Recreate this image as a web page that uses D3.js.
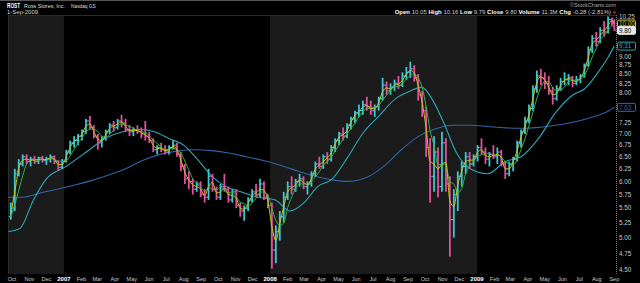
<!DOCTYPE html>
<html>
<head>
<meta charset="utf-8">
<script src="https://cdn.jsdelivr.net/npm/d3@7/dist/d3.min.js"></script>
<style>
  html, body { margin: 0; padding: 0; background: #000; }
  svg { display: block; font-family: "Liberation Sans", Arial, sans-serif; }
</style>
</head>
<body>
<svg id="chart" width="640" height="283"></svg>
<script>
// Weekly OHLC bars (week ending Friday, last bar = 1-Sep-2009)
const opens = [5.35,5.50,6.20,6.35,6.50,6.40,6.45,6.40,6.48,6.42,6.45,6.50,6.40,6.28,
  6.40,6.60,6.80,6.85,6.95,7.05,7.30,7.15,6.95,6.80,6.90,7.05,7.20,7.15,7.30,7.25,7.10,7.05,7.10,7.05,7.00,6.95,6.85,6.65,6.70,6.65,6.60,6.70,6.75,6.55,6.30,6.05,6.00,5.85,5.95,5.75,5.70,6.10,5.85,5.70,5.90,5.85,5.65,5.80,5.55,5.45,5.50,5.65,5.80,5.75,5.95,5.70,
  5.55,4.80,5.10,5.35,5.70,5.90,5.85,6.00,6.05,5.90,5.95,6.15,6.35,6.30,6.50,6.45,6.70,6.85,7.00,6.95,7.20,7.35,7.50,7.55,7.70,7.65,7.55,7.65,7.85,8.20,8.05,8.15,8.25,8.20,8.45,8.55,8.65,8.40,7.95,7.55,6.70,6.10,6.60,5.90,6.80,5.95,5.30,5.75,6.10,6.30,6.50,6.35,
  6.50,6.70,6.60,6.45,6.55,6.50,6.60,6.35,6.15,6.35,6.45,6.80,7.05,7.30,7.60,8.10,8.45,8.40,8.25,8.05,7.85,8.10,8.30,8.35,8.40,8.25,8.35,8.45,8.75,9.20,9.55,9.45,9.80,9.75,10.15,10.05];
const highs = [5.60,6.25,6.45,6.55,6.55,6.50,6.52,6.50,6.52,6.50,6.55,6.53,6.42,6.45,
  6.65,6.85,6.95,7.00,7.10,7.35,7.42,7.20,7.00,6.95,7.10,7.25,7.30,7.35,7.45,7.35,7.20,7.15,7.20,7.15,7.30,7.05,6.90,6.75,6.80,6.75,6.75,6.85,6.80,6.60,6.35,6.20,6.05,6.00,6.00,5.85,6.25,6.15,5.90,5.95,6.15,5.90,5.85,5.85,5.60,5.55,5.70,5.85,5.95,6.05,6.00,5.75,
  5.60,5.20,5.45,5.80,6.00,6.10,6.05,6.15,6.10,6.00,6.20,6.40,6.50,6.55,6.60,6.75,6.90,7.05,7.15,7.25,7.40,7.55,7.70,7.80,7.90,7.80,7.70,7.90,8.40,8.30,8.25,8.35,8.45,8.55,8.70,8.85,8.75,8.50,8.05,7.65,6.90,6.95,6.70,7.05,6.90,6.10,5.85,6.20,6.40,6.60,6.60,6.55,
  6.75,6.90,6.70,6.60,6.75,6.70,6.65,6.40,6.40,6.50,6.85,7.10,7.40,7.70,8.20,8.60,8.65,8.55,8.45,8.15,8.20,8.40,8.55,8.50,8.45,8.45,8.50,8.80,9.30,9.65,9.75,9.90,10.10,10.25,10.22,10.16];
const lows = [5.30,5.45,6.10,6.30,6.35,6.30,6.35,6.35,6.38,6.33,6.38,6.35,6.22,6.25,
  6.38,6.55,6.70,6.75,6.85,7.00,7.10,6.90,6.65,6.70,6.85,7.00,7.05,7.10,7.15,7.05,6.95,6.95,7.00,6.90,6.85,6.80,6.60,6.55,6.60,6.55,6.55,6.65,6.50,6.20,5.95,5.85,5.75,5.80,5.70,5.60,5.65,5.80,5.65,5.65,5.80,5.60,5.60,5.50,5.35,5.28,5.45,5.60,5.70,5.70,5.65,5.50,
  4.52,4.60,4.95,5.25,5.65,5.75,5.80,5.90,5.85,5.75,5.90,6.10,6.25,6.25,6.35,6.40,6.60,6.75,6.85,6.90,7.10,7.25,7.40,7.45,7.55,7.45,7.40,7.55,7.80,7.95,7.95,8.05,8.10,8.15,8.35,8.40,8.30,7.80,7.40,6.50,5.60,5.80,5.70,5.80,5.80,4.70,5.00,5.45,5.90,6.15,6.25,6.30,
  6.40,6.55,6.35,6.30,6.45,6.35,6.30,6.05,6.10,6.20,6.40,6.70,7.00,7.25,7.55,8.00,8.20,8.10,7.95,7.70,7.80,8.05,8.20,8.20,8.15,8.20,8.25,8.40,8.70,9.10,9.30,9.40,9.60,9.70,9.95,9.79];
const closes = [5.45,6.15,6.35,6.50,6.40,6.45,6.40,6.48,6.42,6.45,6.50,6.40,6.28,6.40,
  6.60,6.80,6.85,6.95,7.05,7.30,7.15,6.95,6.80,6.90,7.05,7.20,7.15,7.30,7.25,7.10,7.05,7.10,7.05,7.00,6.95,6.85,6.65,6.70,6.65,6.60,6.70,6.75,6.55,6.30,6.05,6.00,5.85,5.95,5.75,5.70,6.10,5.85,5.70,5.90,5.85,5.65,5.80,5.55,5.45,5.50,5.65,5.80,5.75,5.95,5.70,5.55,
  4.80,5.10,5.35,5.70,5.90,5.85,6.00,6.05,5.90,5.95,6.15,6.35,6.30,6.50,6.45,6.70,6.85,7.00,6.95,7.20,7.35,7.50,7.55,7.70,7.65,7.55,7.65,7.85,8.20,8.05,8.15,8.25,8.20,8.45,8.55,8.65,8.40,7.95,7.55,6.70,6.10,6.60,5.90,6.80,5.95,5.30,5.75,6.10,6.30,6.50,6.35,6.50,
  6.70,6.60,6.45,6.55,6.50,6.60,6.35,6.15,6.35,6.45,6.80,7.05,7.30,7.60,8.10,8.45,8.40,8.25,8.05,7.85,8.10,8.30,8.35,8.40,8.25,8.35,8.45,8.75,9.20,9.55,9.45,9.80,9.75,10.15,10.08,9.80];

// Moving averages, one value per bar
const ma10 = [5.40,5.80,6.25,6.43,6.45,6.43,6.43,6.44,6.45,6.44,6.48,6.45,6.34,6.34,
  6.50,6.70,6.83,6.90,7.00,7.18,7.23,7.05,6.88,6.85,6.98,7.13,7.18,7.23,7.28,7.18,7.08,7.08,7.08,7.03,6.98,6.90,6.75,6.68,6.68,6.63,6.65,6.73,6.65,6.43,6.18,6.03,5.93,5.90,5.85,5.73,5.90,5.98,5.78,5.80,5.88,5.75,5.73,5.68,5.50,5.48,5.58,5.73,5.78,5.85,5.83,5.63,
  5.18,4.95,5.23,5.53,5.80,5.88,5.93,6.03,5.98,5.93,6.05,6.25,6.33,6.40,6.48,6.58,6.78,6.93,6.98,7.08,7.28,7.43,7.53,7.63,7.68,7.60,7.60,7.75,8.03,8.13,8.10,8.20,8.23,8.33,8.50,8.60,8.53,8.18,7.75,7.13,6.40,6.35,6.25,6.35,6.38,5.63,5.53,5.93,6.20,6.40,6.43,6.43,
  6.60,6.65,6.53,6.50,6.53,6.55,6.48,6.25,6.25,6.40,6.63,6.93,7.18,7.45,7.85,8.28,8.43,8.33,8.15,7.95,7.98,8.20,8.33,8.38,8.33,8.30,8.40,8.60,8.98,9.38,9.50,9.63,9.78,9.95,10.12,10.00];
const ma20 = [5.35,5.56,5.83,6.11,6.35,6.43,6.44,6.43,6.44,6.44,6.46,6.44,6.41,6.40,
  6.42,6.52,6.66,6.80,6.91,7.04,7.11,7.11,7.05,6.95,6.93,6.99,7.08,7.18,7.23,7.20,7.18,7.13,7.08,7.05,7.03,6.96,6.86,6.79,6.71,6.65,6.66,6.68,6.65,6.58,6.41,6.23,6.05,5.96,5.89,5.81,5.88,5.85,5.84,5.89,5.83,5.78,5.80,5.71,5.61,5.58,5.54,5.60,5.68,5.79,5.80,5.74,
  5.50,5.29,5.20,5.24,5.51,5.70,5.86,5.95,5.95,5.98,6.01,6.09,6.19,6.33,6.40,6.49,6.63,6.75,6.88,7.00,7.13,7.25,7.40,7.53,7.60,7.61,7.64,7.68,7.81,7.94,8.06,8.16,8.16,8.26,8.36,8.46,8.51,8.39,8.14,7.65,7.08,6.74,6.33,6.35,6.31,5.99,5.95,5.78,5.86,6.16,6.31,6.41,
  6.51,6.54,6.56,6.58,6.53,6.53,6.50,6.40,6.36,6.33,6.44,6.66,6.90,7.19,7.51,7.86,8.14,8.30,8.29,8.14,8.06,8.08,8.15,8.29,8.33,8.34,8.36,8.45,8.69,8.99,9.24,9.50,9.64,9.79,9.95,9.88];

// 50-day and 200-day averages, read at sparser dates
const ma50Dates = ["2006-09-25","2006-10-15","2006-11-08","2006-12-01","2007-01-05","2007-02-15","2007-03-15","2007-04-15","2007-05-15","2007-06-10","2007-07-05","2007-08-01","2007-08-25","2007-09-20","2007-10-15","2007-11-10","2007-12-10","2008-01-10","2008-02-05","2008-03-01","2008-03-25","2008-04-20","2008-05-15","2008-06-15","2008-07-10","2008-08-10","2008-09-05","2008-09-25","2008-10-15","2008-11-05","2008-11-25","2008-12-20","2009-01-20","2009-02-20","2009-03-20","2009-04-20","2009-05-20","2009-06-20","2009-07-10","2009-08-01","2009-08-20","2009-09-01"];
const ma50 = [5.10,5.15,5.65,6.05,6.30,6.65,6.90,7.05,7.10,7.05,6.90,6.75,6.45,6.10,5.90,5.80,5.70,5.65,5.45,5.60,5.90,6.05,6.45,7.05,7.40,7.85,8.05,8.15,7.80,7.20,6.60,6.25,6.15,6.40,6.50,6.90,7.50,7.95,8.10,8.50,8.95,9.31];
const ma200Dates = ["2006-09-24","2006-10-20","2006-11-20","2006-12-20","2007-01-20","2007-02-20","2007-03-20","2007-04-20","2007-05-20","2007-06-20","2007-07-20","2007-08-20","2007-09-20","2007-10-20","2007-11-20","2007-12-20","2008-01-20","2008-02-20","2008-03-20","2008-04-20","2008-05-20","2008-06-20","2008-07-20","2008-08-20","2008-09-20","2008-10-20","2008-11-20","2008-12-20","2009-01-20","2009-02-20","2009-03-20","2009-04-20","2009-05-20","2009-06-20","2009-07-20","2009-08-20","2009-09-01"];
const ma200 = [5.70,5.70,5.78,5.85,5.93,6.02,6.12,6.25,6.42,6.55,6.62,6.65,6.63,6.58,6.50,6.42,6.32,6.20,6.10,6.03,6.00,6.08,6.30,6.65,6.95,7.12,7.20,7.20,7.17,7.14,7.13,7.15,7.20,7.27,7.38,7.53,7.63];

const priceTicks = [4.50,4.75,5.00,5.25,5.50,5.75,6.00,6.25,6.50,6.75,7.00,7.25,7.50,7.75,8.00,8.25,8.50,8.75,9.00,9.25,9.50,9.75,10.00,10.25];
const monthLabels = ["Oct","Nov","Dec","2007","Feb","Mar","Apr","May","Jun","Jul","Aug","Sep","Oct","Nov","Dec","2008","Feb","Mar","Apr","May","Jun","Jul","Aug","Sep","Oct","Nov","Dec","2009","Feb","Mar","Apr","May","Jun","Jul","Aug","Sep"];
const endLabels = [
  { value: 10.00, text: "10.00", kind: "ma10" },
  { value: 9.80, text: "9.80", kind: "price" },
  { value: 9.31, text: "9.31", kind: "ma50" },
  { value: 7.63, text: "7.63", kind: "ma200" }
];

const colors = {
  up: "#3cc6d2", down: "#e0509c",
  ma10: "#c9c41e", ma20: "#34b04a", ma50: "#2aa8b8", ma200: "#2f64a8",
  price: "#e8e8e8", band: "#1b1b1b", text: "#c8c8c8"
};

const svg = d3.select('#chart');
const parse = d3.timeParse('%Y-%m-%d');

// Dates of bars
const dates = d3.timeFriday.range(new Date(2006, 8, 29), new Date(2009, 7, 29));
dates.push(new Date(2009, 8, 1));

const plot = { left: 8, right: 616, top: 15, bottom: 274 };
const x = d3.scaleTime().domain([new Date(2006, 8, 24), new Date(2009, 8, 4)]).range([plot.left, plot.right]);
const y = d3.scaleLog().domain([4.5, 10.25]).range([270, 16.5]);

// Alternating year bands
svg.append('rect').attr('x', plot.left).attr('y', plot.top)
  .attr('width', plot.right - plot.left).attr('height', plot.bottom - plot.top).attr('fill', '#000');
[[x.domain()[0], new Date(2007, 0, 1)], [new Date(2008, 0, 1), new Date(2009, 0, 1)]].forEach(([a, b]) => {
  svg.append('rect')
    .attr('x', x(a)).attr('y', plot.top)
    .attr('width', x(b) - x(a)).attr('height', plot.bottom - plot.top)
    .attr('fill', colors.band);
});

// Frame
svg.append('line').attr('x1', 0).attr('x2', 640).attr('y1', 0.5).attr('y2', 0.5).attr('stroke', '#555');
svg.append('line').attr('x1', plot.left).attr('x2', plot.right).attr('y1', plot.top + 0.5).attr('y2', plot.top + 0.5).attr('stroke', '#2a2a2a');
svg.append('line').attr('x1', plot.left + 0.5).attr('x2', plot.left + 0.5).attr('y1', plot.top).attr('y2', plot.bottom).attr('stroke', '#2e2e2e');
svg.append('line').attr('x1', plot.right + 0.5).attr('x2', plot.right + 0.5).attr('y1', plot.top).attr('y2', plot.bottom)
  .attr('stroke', '#777').attr('stroke-dasharray', '1,1');

// Header texts (fitted to the widths seen in the reference)
const header = svg.append('g').attr('fill', '#fff');
const fitText = (xPos, yPos, size, width, txt, fill, weight) => header.append('text')
  .attr('x', xPos).attr('y', yPos).attr('font-size', size).attr('font-weight', weight || 'normal')
  .attr('fill', fill).attr('textLength', width).attr('lengthAdjust', 'spacingAndGlyphs').text(txt);
fitText(7, 8, 6.5, 13, 'ROST', '#fff', 'bold');
fitText(24, 8, 5.5, 41, 'Ross Stores, Inc.', '#ddd');
header.append('text').attr('x', 71).attr('y', 8).attr('font-size', 4.8).attr('fill', '#ddd').text('Nasdaq GS');
fitText(7, 14, 5.5, 31, '1-Sep-2009', '#ddd');
header.append('text').attr('x', 616).attr('y', 7).attr('text-anchor', 'end').attr('font-size', 5.5).attr('fill', '#aaa').text('\u00a9StockCharts.com');

const quote = header.append('text').attr('x', 611).attr('y', 14).attr('text-anchor', 'end').attr('font-size', 6).attr('fill', '#ddd');
[['Open ', true], ['10.05 ', false], ['High ', true], ['10.16 ', false], ['Low ', true], ['9.79 ', false],
 ['Close ', true], ['9.80 ', false], ['Volume ', true], ['11.3M ', false], ['Chg ', true], ['-0.28 (-2.81%)', false]]
  .forEach(([t, bold]) => {
    quote.append('tspan').attr('font-weight', bold ? 'bold' : 'normal').attr('fill', bold ? '#fff' : '#ccc').text(t);
  });
svg.append('path').attr('d', 'M612.5,11.5 L616.5,11.5 L614.5,14 Z').attr('fill', '#e02020');

// Price axis on the right; labels covered by the value boxes are left out
const boxYs = endLabels.map(l => y(l.value));
const visibleTicks = priceTicks.filter(t => boxYs.every(b => Math.abs(y(t) - b) > 7));
const yAxis = svg.append('g').attr('font-size', 6.3).attr('fill', colors.text);
yAxis.selectAll('text').data(visibleTicks).enter().append('text')
  .attr('x', 619).attr('y', d => y(d) + 2.2)
  .text(d => d.toFixed(2));

// Time axis
const monthStarts = d3.timeMonth.range(new Date(2006, 9, 1), new Date(2009, 8, 2));
svg.append('g').selectAll('text').data(monthStarts).enter().append('text')
  .attr('x', d => x(d)).attr('y', 281)
  .attr('text-anchor', 'middle')
  .attr('font-size', d => d.getMonth() === 0 ? 6 : 5.5)
  .attr('font-weight', d => d.getMonth() === 0 ? 'bold' : 'normal')
  .attr('fill', d => d.getMonth() === 0 ? '#fff' : colors.text)
  .text((d, i) => monthLabels[i]);

// Moving average lines
const lineIdx = d3.line().x(d => x(d[0])).y(d => y(d[1])).curve(d3.curveMonotoneX);
const drawLine = (pts, color, width) => {
  svg.append('path').datum(pts)
    .attr('fill', 'none').attr('stroke', color).attr('stroke-width', width)
    .attr('d', lineIdx);
};
drawLine(ma200Dates.map((d, i) => [parse(d), ma200[i]]), colors.ma200, 1.1);
drawLine(ma50Dates.map((d, i) => [parse(d), ma50[i]]), colors.ma50, 1.1);

// OHLC bars
const bars = svg.append('g');
dates.forEach((d, i) => {
  const cx = x(d);
  const c = closes[i] >= opens[i] ? colors.up : colors.down;
  const g = bars.append('g').attr('stroke', c).attr('stroke-width', 1.8);
  g.append('line').attr('x1', cx).attr('x2', cx).attr('y1', y(highs[i])).attr('y2', y(lows[i]));
  g.append('line').attr('x1', cx - 2).attr('x2', cx).attr('y1', y(opens[i])).attr('y2', y(opens[i])).attr('stroke-width', 1.2);
  g.append('line').attr('x1', cx).attr('x2', cx + 2).attr('y1', y(closes[i])).attr('y2', y(closes[i])).attr('stroke-width', 1.2);
});

drawLine(dates.map((d, i) => [d, ma20[i]]), colors.ma20, 1);
drawLine(dates.map((d, i) => [d, ma10[i]]), colors.ma10, 1);

// Value boxes at the right edge
const boxes = svg.append('g').attr('font-size', 6.3);
endLabels.forEach(l => {
  const cy = y(l.value);
  const isPrice = l.kind === 'price';
  boxes.append('rect')
    .attr('x', 617.5).attr('y', cy - 4).attr('width', 18).attr('height', 8).attr('rx', 1.5)
    .attr('fill', isPrice ? '#e8e8e8' : '#000')
    .attr('stroke', colors[l.kind]).attr('stroke-width', 1);
  boxes.append('text')
    .attr('x', 619).attr('y', cy + 2.2)
    .attr('fill', isPrice ? '#000' : colors[l.kind])
    .text(l.text);
});
</script>
</body>
</html>
